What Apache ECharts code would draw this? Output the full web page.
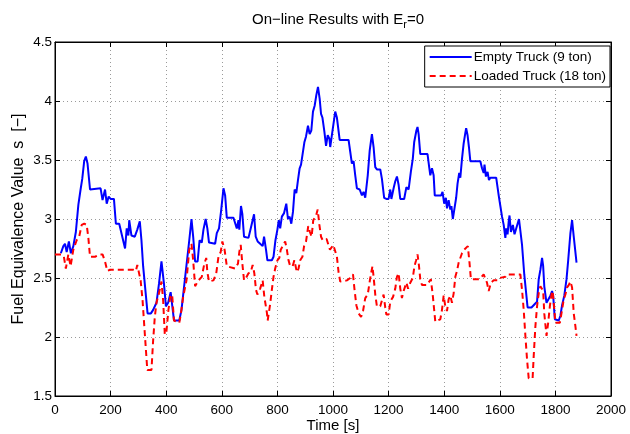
<!DOCTYPE html>
<html>
<head>
<meta charset="utf-8">
<script src="https://cdn.jsdelivr.net/npm/echarts@6/dist/echarts.min.js"></script>
<style>html,body{margin:0;padding:0;background:#fff;}#c{width:630px;height:434px;}</style>
</head>
<body>
<div id="c"></div>
<script>
var emptyTime = [21,30,36,42,50,57,66,75,84,92,98,105,111,117,126,164,171,180,186,193,200,212,219,231,252,258,264,267,275,287,296,305,311,317,333,345,353,365,374,383,392,399,407,416,422,428,447,455,473,483,491,497,504,513,520,528,534,542,548,554,576,582,590,598,606,612,618,642,648,654,660,663,669,674,680,684,696,704,709,716,722,729,738,747,752,759,764,780,786,793,800,805,810,816,824,832,838,844,850,856,862,868,874,880,885,891,897,903,910,916,922,928,934,940,946,952,957,962,969,975,981,987,990,996,1002,1008,1014,1024,1056,1062,1068,1074,1080,1086,1096,1104,1110,1116,1125,1132,1140,1146,1152,1158,1170,1176,1184,1192,1200,1206,1210,1218,1224,1230,1236,1242,1256,1264,1272,1280,1287,1292,1300,1304,1308,1314,1340,1346,1350,1356,1362,1366,1389,1394,1400,1406,1410,1416,1422,1426,1431,1437,1443,1448,1454,1458,1464,1470,1476,1479,1484,1489,1494,1530,1536,1542,1545,1550,1556,1561,1566,1587,1596,1602,1608,1614,1620,1623,1628,1632,1635,1640,1647,1653,1659,1664,1669,1674,1680,1688,1700,1714,1726,1734,1740,1746,1752,1756,1760,1768,1774,1782,1788,1792,1798,1812,1818,1824,1832,1840,1846,1854,1860,1866,1876];
var emptyValue = [2.71,2.77,2.79,2.72,2.81,2.71,2.77,2.89,3.12,3.25,3.34,3.49,3.53,3.47,3.25,3.26,3.16,3.25,3.13,3.19,3.17,3.17,2.96,2.96,2.75,2.92,2.86,2.99,2.86,2.85,2.91,2.98,2.82,2.60,2.20,2.20,2.23,2.29,2.45,2.64,2.45,2.26,2.29,2.38,2.37,2.14,2.14,2.23,2.61,2.82,3.00,2.85,2.64,2.64,2.82,2.80,2.91,3.00,2.92,2.80,2.79,2.88,2.92,3.08,3.26,3.20,3.01,3.01,3.00,2.92,2.99,2.91,3.11,3.04,2.85,2.84,2.84,2.92,2.97,3.04,2.85,2.81,2.79,2.77,2.85,2.74,2.65,2.65,2.68,2.82,2.91,2.99,2.92,3.02,3.05,3.13,3.00,3.02,2.96,3.06,3.25,3.22,3.33,3.43,3.46,3.47,3.65,3.70,3.79,3.72,3.75,3.91,3.96,4.05,4.12,4.02,3.89,3.86,3.74,3.62,3.71,3.68,3.61,3.71,3.81,3.91,3.86,3.67,3.67,3.57,3.47,3.49,3.37,3.26,3.25,3.20,3.23,3.18,3.37,3.58,3.72,3.61,3.44,3.42,3.42,3.34,3.18,3.17,3.17,3.25,3.17,3.26,3.32,3.36,3.29,3.17,3.17,3.27,3.25,3.40,3.51,3.65,3.75,3.78,3.72,3.55,3.55,3.44,3.37,3.43,3.37,3.20,3.20,3.23,3.13,3.18,3.09,3.16,3.08,3.11,3.00,3.09,3.18,3.30,3.39,3.35,3.51,3.64,3.73,3.77,3.71,3.61,3.49,3.49,3.43,3.39,3.46,3.36,3.40,3.33,3.35,3.35,3.20,3.11,3.02,2.95,2.84,2.92,2.87,2.98,3.03,2.89,2.95,2.87,2.92,2.96,3.00,2.99,2.78,2.53,2.25,2.25,2.28,2.30,2.49,2.57,2.67,2.60,2.43,2.29,2.30,2.35,2.39,2.35,2.15,2.14,2.18,2.27,2.35,2.49,2.65,2.88,2.99,2.85,2.63];
var loadedTime = [0,24,32,39,48,56,66,78,87,96,105,114,120,126,144,162,171,180,188,198,234,281,291,296,303,308,315,323,332,347,353,359,365,374,383,389,395,401,408,416,422,428,447,453,461,473,483,491,497,504,516,528,537,544,548,554,570,580,588,596,602,610,618,648,658,663,668,674,680,687,696,704,711,717,723,728,738,747,753,762,765,774,780,786,792,800,807,812,819,828,834,840,846,855,861,870,876,882,890,896,903,911,917,923,929,939,945,951,957,963,977,983,989,995,1001,1008,1014,1020,1026,1050,1062,1072,1077,1084,1092,1101,1108,1116,1125,1132,1137,1142,1146,1152,1158,1170,1176,1182,1188,1192,1200,1206,1216,1224,1230,1236,1242,1248,1254,1264,1270,1278,1287,1293,1299,1304,1309,1314,1320,1338,1352,1359,1368,1386,1392,1398,1404,1410,1416,1422,1428,1434,1440,1446,1452,1458,1464,1472,1479,1485,1491,1496,1527,1542,1549,1554,1560,1568,1578,1592,1599,1620,1626,1674,1680,1686,1692,1698,1704,1718,1722,1728,1734,1740,1746,1752,1756,1760,1768,1774,1780,1786,1790,1794,1800,1816,1824,1830,1836,1842,1848,1854,1860,1866,1872,1876];
var loadedValue = [2.70,2.70,2.68,2.58,2.70,2.60,2.74,2.82,2.85,2.95,2.96,2.95,2.84,2.68,2.68,2.70,2.70,2.64,2.56,2.57,2.57,2.57,2.56,2.61,2.62,2.48,2.31,2.03,1.72,1.72,1.97,2.17,2.29,2.37,2.47,2.31,2.02,2.05,2.23,2.36,2.34,2.14,2.12,2.20,2.34,2.48,2.74,2.79,2.65,2.43,2.48,2.51,2.62,2.67,2.55,2.47,2.48,2.54,2.68,2.72,2.81,2.74,2.60,2.58,2.62,2.72,2.78,2.62,2.48,2.50,2.54,2.55,2.61,2.54,2.40,2.36,2.41,2.48,2.34,2.21,2.14,2.28,2.40,2.51,2.58,2.65,2.67,2.74,2.73,2.81,2.74,2.65,2.60,2.60,2.65,2.55,2.58,2.65,2.68,2.77,2.81,2.94,2.89,2.85,2.99,3.03,3.08,2.95,2.85,2.82,2.83,2.82,2.74,2.75,2.78,2.77,2.68,2.55,2.47,2.48,2.50,2.53,2.41,2.27,2.20,2.17,2.22,2.33,2.36,2.47,2.54,2.60,2.51,2.36,2.26,2.26,2.27,2.36,2.25,2.19,2.19,2.30,2.34,2.41,2.51,2.54,2.41,2.33,2.39,2.46,2.41,2.46,2.50,2.60,2.65,2.70,2.61,2.49,2.44,2.44,2.49,2.35,2.13,2.15,2.23,2.35,2.26,2.22,2.32,2.35,2.29,2.37,2.51,2.56,2.63,2.64,2.71,2.74,2.75,2.77,2.63,2.49,2.49,2.53,2.53,2.46,2.39,2.46,2.48,2.48,2.50,2.51,2.53,2.53,2.40,2.23,2.01,1.81,1.65,1.65,1.84,2.09,2.26,2.37,2.43,2.44,2.39,2.20,2.01,2.12,2.26,2.36,2.39,2.29,2.12,2.12,2.23,2.32,2.36,2.42,2.44,2.47,2.42,2.20,2.09,2.01];
var xTicks = [0,200,400,600,800,1000,1200,1400,1600,1800,2000];
var yTicks = [1.5,2,2.5,3,3.5,4,4.5];

function zip(a, b) { return a.map(function (t, i) { return [t, b[i]]; }); }

var FONT = '"Liberation Sans", Arial, sans-serif';
var chart = echarts.init(document.getElementById('c'), null, {renderer: 'canvas'});
var gridLine = {show: true, lineStyle: {color: '#9a9a9a', type: [1, 3], width: 1}};
var axisLine = {show: true, onZero: false, lineStyle: {color: '#000', width: 1}};
chart.setOption({
  animation: false,
  backgroundColor: '#fff',
  title: {
    text: '{a|On\u2212line Results with E}{s|r}{a|=0}',
    left: 333, top: 5, textAlign: 'center',
    textStyle: {fontWeight: 'normal', rich: {
      a: {fontFamily: FONT, fontSize: 15, fontWeight: 'normal', color: '#000'},
      s: {fontFamily: FONT, fontSize: 11, fontWeight: 'normal', color: '#000', verticalAlign: 'bottom', padding: [9, 0, 0, 0]}
    }}
  },
  legend: {
    orient: 'vertical', right: 20, top: 46,
    icon: 'inherit',
    itemWidth: 42, itemHeight: 12, itemGap: 5,
    itemStyle: {opacity: 0, borderWidth: 0},
    backgroundColor: '#fff', borderColor: '#000', borderWidth: 1, borderRadius: 0,
    padding: [4, 4, 4, 4],
    textStyle: {fontFamily: FONT, fontSize: 13.5, color: '#000', padding: [0, 0, 0, -3]},
    data: ['Empty Truck (9 ton)', 'Loaded Truck (18 ton)']
  },
  grid: {left: 55, right: 19, top: 42, bottom: 38, show: true, borderColor: '#000', borderWidth: 1,
    containLabel: false, outerBoundsMode: 'none'},
  xAxis: [{
    type: 'value', min: 0, max: 2000, interval: 200,
    name: 'Time [s]', nameLocation: 'middle', nameGap: 22, nameMoveOverlap: false,
    nameTextStyle: {fontFamily: FONT, fontSize: 15, color: '#000'},
    axisLine: axisLine, axisTick: {show: true, inside: true, length: 5, lineStyle: {color: '#000'}},
    axisLabel: {fontFamily: FONT, fontSize: 13.5, color: '#000', margin: 7,
      formatter: function (v) { return xTicks.indexOf(v) >= 0 ? String(v) : ''; }},
    splitLine: gridLine
  }, {
    type: 'value', min: 0, max: 2000, interval: 200, position: 'top',
    axisLine: axisLine, axisTick: {show: true, inside: true, length: 5, lineStyle: {color: '#000'}},
    axisLabel: {show: false}, splitLine: {show: false}
  }],
  yAxis: [{
    type: 'value', min: 1.5, max: 4.5, interval: 0.5,
    name: 'Fuel Equivalence Value  s  [\u2212]', nameLocation: 'middle', nameGap: 28, nameRotate: 90, nameMoveOverlap: false,
    nameTextStyle: {fontFamily: FONT, fontSize: 16, color: '#000'},
    axisLine: axisLine, axisTick: {show: true, inside: true, length: 5, lineStyle: {color: '#000'}},
    axisLabel: {fontFamily: FONT, fontSize: 13.5, color: '#000', margin: 3,
      formatter: function (v) { return yTicks.indexOf(v) >= 0 ? String(v) : ''; }},
    splitLine: gridLine
  }, {
    type: 'value', min: 1.5, max: 4.5, interval: 0.5, position: 'right',
    axisLine: axisLine, axisTick: {show: true, inside: true, length: 5, lineStyle: {color: '#000'}},
    axisLabel: {show: false}, splitLine: {show: false}
  }],
  series: [{
    name: 'Empty Truck (9 ton)', type: 'line', symbol: 'none', showSymbol: false,
    data: zip(emptyTime, emptyValue),
    lineStyle: {color: '#0000ff', width: 2}, itemStyle: {color: '#0000ff'}, z: 3
  }, {
    name: 'Loaded Truck (18 ton)', type: 'line', symbol: 'none', showSymbol: false,
    data: zip(loadedTime, loadedValue),
    lineStyle: {color: '#ff0000', width: 2, type: [6, 4]}, itemStyle: {color: '#ff0000'}, z: 4
  }]
});
</script>
</body>
</html>
